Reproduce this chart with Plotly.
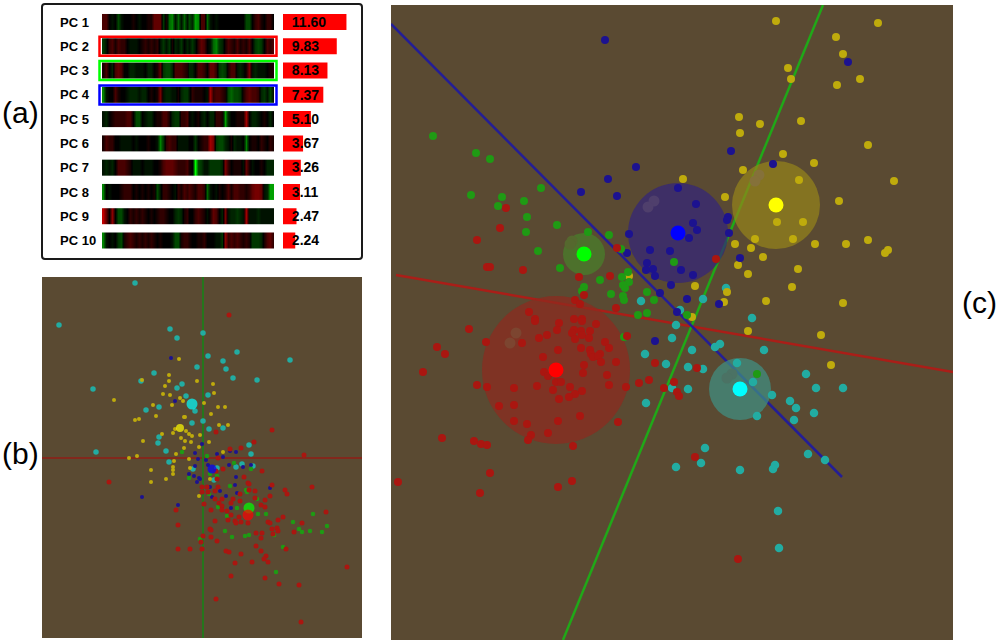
import plotly.graph_objects as go

W, H = 1000, 640

pc_labels = ['PC 1', 'PC 2', 'PC 3', 'PC 4', 'PC 5', 'PC 6', 'PC 7', 'PC 8', 'PC 9', 'PC 10']
pc_values = [11.60, 9.83, 8.13, 7.37, 5.10, 3.67, 3.26, 3.11, 2.47, 2.24]

# eigengene strips, read by eye: negative is red, positive is green
pc_strips = [
    [-3,-3,0,1,0,4,1,0,0,0, -1,0,1,0,0,-1,-1,-4,-4,-4, 3,-1,5,6,1,5,1,5,1,4, 2,7,6,-3,-3,5,1,0,1,0, 0,0,0,0,0,0,0,0,4,4, 0,-2,-3,-1,0,-2,-2,0],
    [3,1,-2,-3,-1,-3,-2,-2,0,1, 1,1,0,-1,-2,-1,-2,-1,-2,1, 3,1,3,-1,2,1,3,0,2,1, 3,1,-2,-4,-3,0,1,5,6,3, 2,-1,-3,-2,-1,-3,-1,-2,-1,-3, 0,3,4,3,0,-3,-2,-3],
    [-1,-3,0,2,-3,-4,-3,0,0,2, 2,1,1,1,0,2,2,0,-1,-4, 3,4,4,2,-3,-3,-3,-2,-1,2, 2,0,-3,-3,-2,0,-4,-4,-2,3, 4,3,-1,-3,-3,1,2,1,-1,-5, 1,2,1,1,1,0,-1,-1],
    [6,1,0,0,-3,-1,0,0,1,2, 2,2,1,2,2,0,-1,0,-1,-5, 1,2,2,1,1,-1,2,3,3,1, -2,-1,-1,-1,0,1,-7,-2,-3,-3, -2,-1,4,5,4,4,3,-1,-3,-4, -3,-3,-2,2,3,1,4,1],
    [1,2,0,-1,-2,-2,-2,-2,-3,-3, 0,4,4,0,1,2,2,0,-1,-1, -3,-3,-1,2,3,3,-2,-2,-3,0, 1,0,-1,1,2,0,2,2,-2,-2, -1,7,2,0,0,-1,-1,-1,-7,0, 2,2,1,0,-1,0,2,0],
    [-1,-3,-2,-2,0,0,1,1,1,1, 0,1,0,0,0,-1,0,0,1,6, 3,-2,-3,-2,-2,1,1,1,1,0, 0,3,0,-1,-2,-2,-7,-5,3,4, 4,2,1,-1,2,1,1,0,6,0, -1,-1,0,-2,-1,0,-2,-1],
    [1,2,1,2,0,-3,-3,-3,-2,-1, 1,1,1,0,1,1,1,0,0,-1, -3,-4,-4,-4,-3,-2,-2,-2,-3,-1, 0,10,4,3,1,1,3,3,3,3, 2,-5,-2,0,-1,-1,-1,1,-4,-1, 1,0,0,-1,0,2,2,2],
    [6,0,1,0,0,0,-1,-2,-2,-2, 0,-1,0,-1,0,-1,0,-1,4,1, -2,-2,-1,0,1,-2,-1,-3,-2,-3, -2,-1,-3,-3,-2,5,1,0,1,-1, 0,-1,-3,-1,-3,-3,-2,-2,-1,-2, -4,-5,-5,-4,1,2,7,7],
    [-8,-4,0,-6,0,4,4,1,0,-2, -1,-2,-1,-2,-1,0,-1,0,-1,-2, -2,-1,0,0,2,3,2,-1,-2,0, 0,-2,-3,-2,-1,1,-1,-4,-3,0, 2,-5,1,2,2,3,2,1,-7,1, 1,1,2,1,1,1,1,1],
    [6,1,0,1,0,3,4,-1,-2,-3, -2,-1,-2,-1,-2,-1,-2,-1,0,-1, 0,0,0,1,4,4,-1,-2,-2,-1, 0,0,-1,-1,-2,0,0,0,1,1, 3,-6,-2,-3,-2,-3,-2,-1,-2,-1, 3,3,3,2,-1,-3,-4,-2],
]

# panel (b) points
b_cyan = [(135,283),(59,325),(170,329),(177,338),(203,333),(208,356),(237,352),(223,361),(290,360),(197,367),(226,369),(154,373),(233,378),(257,380),(141,381),(182,384),(177,388),(93,389),(208,395),(186,396),(159,407),(146,410),(195,411),(192,423),(203,421),(209,429),(223,428),(159,437),(158,443),(166,451),(96,452),(249,445),(251,454),(169,462),(193,469),(217,468),(236,467),(242,464),(253,466),(214,480)]
b_yellow = [(179,359),(142,380),(169,375),(169,381),(165,386),(197,381),(213,384),(214,393),(163,394),(170,395),(180,398),(183,401),(114,400),(153,405),(172,405),(204,403),(218,407),(225,407),(211,414),(156,416),(184,417),(185,417),(135,420),(139,419),(219,425),(228,425),(175,429),(173,433),(186,431),(189,434),(162,434),(192,436),(200,435),(181,438),(143,441),(185,441),(191,442),(209,442),(184,448),(199,447),(223,452),(176,454),(137,456),(129,458),(174,461),(151,470),(173,467),(173,470),(190,468),(173,474),(151,482),(166,479),(210,479),(199,496),(189,459)]
b_blue = [(171,358),(175,401),(202,444),(195,453),(217,454),(230,451),(236,452),(198,459),(206,460),(223,457),(195,466),(208,465),(229,465),(243,467),(251,465),(189,474),(194,476),(199,478),(200,479),(197,482),(236,477),(235,485),(210,487),(220,491),(237,493),(270,488),(226,496),(212,497),(142,497),(178,505),(231,508)]
b_green = [(207,456),(234,463),(251,469),(189,478),(210,474),(217,476),(230,486),(246,490),(247,492),(209,494),(257,499),(218,507),(237,508),(227,516),(258,514),(266,514),(313,514),(293,522),(327,526),(299,529),(302,532),(310,531),(322,532),(225,531),(232,537),(245,536),(249,535),(200,539),(283,547),(276,572),(274,535),(182,452)]
b_red = [(229,315),(272,430),(216,432),(254,442),(230,449),(241,448),(304,455),(218,458),(109,482),(216,471),(223,469),(262,471),(217,479),(244,477),(248,483),(249,484),(272,485),(312,487),(285,490),(287,494),(202,487),(207,487),(218,487),(202,492),(208,492),(215,491),(240,494),(249,490),(255,491),(270,496),(215,499),(222,499),(233,499),(240,501),(255,498),(265,500),(204,504),(219,503),(222,506),(231,503),(261,505),(265,507),(176,510),(211,510),(222,510),(227,511),(326,512),(231,515),(239,517),(283,517),(278,520),(215,521),(228,520),(235,521),(236,523),(241,522),(248,523),(268,522),(270,523),(302,523),(178,525),(210,529),(211,530),(277,528),(272,529),(278,531),(294,532),(256,533),(262,533),(273,534),(203,536),(211,537),(261,538),(217,541),(201,542),(256,546),(178,549),(190,549),(202,549),(226,551),(229,552),(241,554),(261,551),(286,549),(266,556),(264,559),(268,562),(235,563),(252,562),(347,567),(231,576),(265,578),(279,584),(299,585),(216,599),(301,622)]
b_centers_x = [192, 180, 212, 249, 248]
b_centers_y = [404, 428, 469, 508, 515]
b_center_sizes = [11, 8, 9, 11, 11]
b_axis_h_x, b_axis_h_y = [42, 362], [458, 458]
b_axis_v_x, b_axis_v_y = [203, 203], [277, 638]

# panel (c) points
c_cyan = [(676,325),(672,338),(692,350),(720,344),(715,347),(764,350),(688,367),(703,369),(737,363),(753,382),(806,374),(816,388),(843,388),(688,389),(672,388),(772,395),(790,401),(796,408),(814,413),(794,420),(757,416),(705,448),(701,463),(676,467),(808,454),(825,460),(740,470),(775,465),(773,469),(778,511),(779,548),(645,354),(666,364),(646,403),(726,288),(703,299),(680,310),(752,318),(641,301)]
c_yellow = [(776,21),(878,23),(836,37),(843,54),(788,68),(791,79),(860,79),(837,85),(739,117),(760,124),(801,121),(740,133),(868,145),(783,154),(814,163),(743,170),(799,180),(894,181),(683,179),(725,197),(839,201),(777,222),(803,222),(755,239),(793,239),(815,244),(846,244),(868,240),(888,250),(885,253),(735,244),(751,248),(763,257),(738,265),(748,274),(798,269),(695,286),(792,287),(727,292),(766,301),(724,302),(843,303),(692,317),(748,331),(821,335),(831,365),(629,276)]
c_blue = [(605,40),(636,167),(608,179),(581,192),(617,196),(629,234),(627,253),(650,250),(670,251),(647,263),(646,270),(653,269),(655,276),(671,285),(660,293),(677,312),(678,188),(848,62),(731,151),(773,164),(696,204),(693,223),(697,230),(689,238),(728,217),(727,220),(729,233),(740,258),(681,270),(693,275),(687,299),(719,304),(655,341)]
c_green = [(433,136),(476,153),(490,159),(471,195),(502,197),(498,206),(524,201),(541,188),(527,217),(526,232),(557,225),(588,232),(609,235),(538,251),(560,268),(621,249),(674,262),(600,280),(622,277),(628,272),(629,282),(623,285),(625,288),(584,287),(582,291),(611,294),(647,292),(623,296),(624,300),(654,300),(638,315),(647,313),(624,337),(687,315),(757,374)]
c_red = [(506,208),(500,228),(477,240),(487,267),(490,267),(523,270),(579,277),(610,276),(617,248),(584,295),(575,300),(580,304),(616,308),(529,312),(535,319),(574,319),(582,319),(469,329),(437,347),(445,354),(423,372),(486,342),(522,343),(535,321),(539,338),(547,335),(559,323),(557,330),(574,330),(572,333),(581,331),(582,335),(575,339),(589,338),(590,331),(596,324),(582,321),(605,342),(609,348),(581,348),(558,350),(543,357),(590,350),(591,354),(593,357),(600,354),(598,356),(601,362),(616,362),(584,365),(583,373),(607,375),(544,372),(548,376),(556,382),(561,382),(570,387),(553,390),(537,386),(514,388),(487,387),(477,385),(609,385),(626,387),(639,383),(649,380),(655,363),(674,382),(664,388),(677,392),(679,396),(582,391),(575,394),(569,397),(559,399),(514,405),(499,406),(514,421),(527,424),(558,421),(580,416),(618,422),(548,433),(531,435),(528,440),(573,446),(442,438),(474,441),(481,444),(487,445),(490,473),(398,482),(480,493),(558,487),(572,481),(627,336),(697,368),(695,457),(738,559),(716,259)]
c_centers_x = [740, 776, 678, 584, 556]
c_centers_y = [389, 205, 233, 254, 370]
c_sphere_sizes = [62, 88, 100, 42, 148]
c_spot_x = [[732,727], [759,755], [654,648], [572,570], [516,510]]
c_spot_y = [[374,378], [175,181], [201,207], [241,244], [333,343]]
c_axis_red_x, c_axis_red_y = [396, 953], [275, 372]
c_axis_green_x, c_axis_green_y = [823, 563], [5, 640]
c_axis_blue_x, c_axis_blue_y = [391, 842], [24, 477]

BG = '#5a4a32'
bright = ['#00ffff', '#ffff00', '#0000ff', '#00ff00', '#ff0000']
point_colors = ['#22aca2', '#bfab0c', '#1c1290', '#1f9a14', '#aa1610']
sphere_colors = ['#3e9184', '#958419', '#32247c', '#47822a', '#8f2a1e']
spot_colors = ['#4b7264', '#85713a', '#4f3f6c', '#55682e', '#7c4530']


def px(x):
    return x / W


def py(y):
    return 1 - y / H


def points(pts, color, size, xa, ya):
    xs, ys = zip(*pts)
    return go.Scatter(x=xs, y=ys, mode='markers', xaxis=xa, yaxis=ya, showlegend=False,
                      marker=dict(color=color, size=size, line=dict(width=0)))


def line(xs, ys, color, width, xa, ya):
    return go.Scatter(x=xs, y=ys, mode='lines', xaxis=xa, yaxis=ya, showlegend=False,
                      line=dict(color=color, width=width))


fig = go.Figure()

# (a) strips and bars, the scale stays dark until the strongest values
scale = [[0, '#ff0000'], [0.15, '#a00000'], [0.3, '#600000'], [0.5, '#000000'],
         [0.7, '#004800'], [0.85, '#00a000'], [1, '#00ff00']]
for i, row in enumerate(pc_strips):
    fig.add_trace(go.Heatmap(z=[row, row], y=[i - 0.165, i + 0.165], x=list(range(len(row))),
                             zmin=-10, zmax=10, colorscale=scale, showscale=False,
                             zsmooth='best', xaxis='x', yaxis='y'))
fig.add_trace(go.Bar(x=pc_values, y=list(range(10)), orientation='h', width=0.66,
                     marker=dict(color='#ff0000', line=dict(width=0)), xaxis='x2', yaxis='y2',
                     showlegend=False))
fig.add_trace(go.Scatter(x=[1.62] * 10, y=[i + 0.05 for i in range(10)], mode='text',
                         xaxis='x2', yaxis='y2',
                         text=[f'<b>{v:.2f}</b>' for v in pc_values], textposition='middle right',
                         textfont=dict(family='Liberation Sans', size=14, color='black'),
                         showlegend=False))

# (b)
fig.add_trace(line(b_axis_h_x, b_axis_h_y, '#82281c', 2, 'x3', 'y3'))
fig.add_trace(line(b_axis_v_x, b_axis_v_y, '#25761c', 2, 'x3', 'y3'))
fig.add_trace(points(b_cyan, point_colors[0], 5.5, 'x3', 'y3'))
fig.add_trace(points(b_yellow, point_colors[1], 4, 'x3', 'y3'))
fig.add_trace(points(b_blue, point_colors[2], 4, 'x3', 'y3'))
fig.add_trace(points(b_green, point_colors[3], 4.5, 'x3', 'y3'))
fig.add_trace(points(b_red, point_colors[4], 5, 'x3', 'y3'))
fig.add_trace(go.Scatter(x=b_centers_x, y=b_centers_y, mode='markers', xaxis='x3', yaxis='y3',
                         showlegend=False,
                         marker=dict(color=bright, size=b_center_sizes, line=dict(width=0))))

# (c)
fig.add_trace(line(c_axis_red_x, c_axis_red_y, '#aa1e18', 2.5, 'x4', 'y4'))
fig.add_trace(line(c_axis_green_x, c_axis_green_y, '#20a818', 2.5, 'x4', 'y4'))
fig.add_trace(line(c_axis_blue_x, c_axis_blue_y, '#241e96', 2.5, 'x4', 'y4'))
fig.add_trace(go.Scatter(x=c_centers_x, y=c_centers_y, mode='markers', xaxis='x4', yaxis='y4',
                         showlegend=False,
                         marker=dict(color=sphere_colors, size=c_sphere_sizes, line=dict(width=0))))
for sx, sy, col in zip(c_spot_x, c_spot_y, spot_colors):
    fig.add_trace(go.Scatter(x=sx, y=sy, mode='markers', xaxis='x4', yaxis='y4', showlegend=False,
                             marker=dict(color=col, size=11, line=dict(width=0))))
fig.add_trace(points(c_cyan, point_colors[0], 8.5, 'x4', 'y4'))
fig.add_trace(points(c_yellow, point_colors[1], 8, 'x4', 'y4'))
fig.add_trace(points(c_blue, point_colors[2], 8, 'x4', 'y4'))
fig.add_trace(points(c_green, point_colors[3], 8, 'x4', 'y4'))
fig.add_trace(points(c_red, point_colors[4], 8, 'x4', 'y4'))
fig.add_trace(go.Scatter(x=c_centers_x, y=c_centers_y, mode='markers', xaxis='x4', yaxis='y4',
                         showlegend=False,
                         marker=dict(color=bright, size=15, line=dict(width=0))))

hidden = dict(visible=False, fixedrange=True)
row_top, row_bottom = 9.85, 252.65
shapes = [
    # rounded frame of panel (a)
    dict(type='path', xref='paper', yref='paper', layer='below',
         path=f'M {px(45)} {py(4)} L {px(359)} {py(4)} Q {px(362)} {py(4)} {px(362)} {py(7)} '
              f'L {px(362)} {py(256)} Q {px(362)} {py(259)} {px(359)} {py(259)} '
              f'L {px(45)} {py(259)} Q {px(42)} {py(259)} {px(42)} {py(256)} '
              f'L {px(42)} {py(7)} Q {px(42)} {py(4)} {px(45)} {py(4)} Z',
         line=dict(color='#1a1a1a', width=2), fillcolor='white'),
    dict(type='rect', xref='paper', yref='paper', layer='below',
         x0=px(42), x1=px(362), y0=py(638), y1=py(277), fillcolor=BG, line=dict(width=0)),
    dict(type='rect', xref='paper', yref='paper', layer='below',
         x0=px(391), x1=px(953), y0=py(640), y1=py(5), fillcolor=BG, line=dict(width=0)),
]
for i, col in zip([1, 2, 3], ['#ff0000', '#00ff00', '#0000ff']):
    mid = 22 + 24.3 * i
    shapes.append(dict(type='rect', xref='paper', yref='paper', layer='above',
                       x0=px(99.5), x1=px(276.5), y0=py(mid - 9.5), y1=py(mid + 9.5),
                       line=dict(color=col, width=2.5), fillcolor='rgba(0,0,0,0)'))

annotations = []
for i, label in enumerate(pc_labels):
    annotations.append(dict(text=f'<b>{label}</b>', xref='paper', yref='paper', x=px(58),
                            y=py(22 + 24.3 * i), xanchor='left', yanchor='middle', showarrow=False,
                            font=dict(family='Liberation Sans', size=13, color='black')))
for text, x, y in [('(a)', 0, 113), ('(b)', 0, 453), ('(c)', 960, 302)]:
    annotations.append(dict(text=text, xref='paper', yref='paper', x=px(x), y=py(y),
                            xanchor='left', yanchor='middle', showarrow=False,
                            font=dict(family='Liberation Sans', size=30, color='black')))

fig.update_layout(
    width=W, height=H, margin=dict(l=0, r=0, t=0, b=0), autosize=False,
    paper_bgcolor='white', plot_bgcolor='rgba(0,0,0,0)', showlegend=False, hovermode=False,
    shapes=shapes, annotations=annotations,
    xaxis=dict(hidden, domain=[px(102), px(274)], range=[-0.5, 57.5]),
    yaxis=dict(hidden, domain=[py(row_bottom), py(row_top)], range=[9.5, -0.5]),
    xaxis2=dict(hidden, domain=[px(283), px(356)], range=[0, 73 / 5.47]),
    yaxis2=dict(hidden, domain=[py(row_bottom), py(row_top)], range=[9.5, -0.5]),
    xaxis3=dict(hidden, domain=[px(42), px(362)], range=[42, 362]),
    yaxis3=dict(hidden, domain=[py(638), py(277)], range=[638, 277]),
    xaxis4=dict(hidden, domain=[px(391), px(953)], range=[391, 953]),
    yaxis4=dict(hidden, domain=[py(640), py(5)], range=[640, 5]),
)

fig.write_html("out.html", config=dict(displayModeBar=False),
               post_script="document.body.style.margin='0';")
